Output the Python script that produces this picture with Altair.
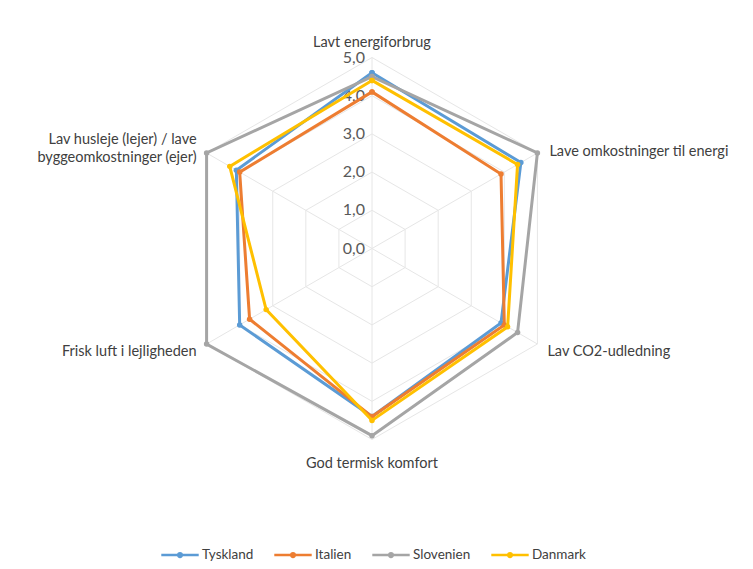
import altair as alt
import pandas as pd

# ---------------- data ----------------
categories = [
    "Lavt energiforbrug",
    "Lave omkostninger til energi",
    "Lav CO2-udledning",
    "God termisk komfort",
    "Frisk luft i lejligheden",
    "Lav husleje (lejer) / lave\nbyggeomkostninger (ejer)",
]
series = ["Tyskland", "Italien", "Slovenien", "Danmark"]
tyskland = [4.6, 4.5, 3.9, 4.4, 4.0, 4.1]
italien = [4.1, 3.9, 4.0, 4.4, 3.7, 4.0]
slovenien = [4.5, 5.0, 4.4, 4.9, 5.0, 5.0]
danmark = [4.4, 4.4, 4.1, 4.5, 3.2, 4.3]
ticks = [0, 1, 2, 3, 4, 5]
tick_labels = ["0,0", "1,0", "2,0", "3,0", "4,0", "5,0"]
colors = ["#5B9BD5", "#ED7D31", "#A5A5A5", "#FFC000"]

values = [tyskland, italien, slovenien, danmark]
n = len(categories)

rows = []
for s, vals in zip(series, values):
    for i in range(n + 1):
        rows.append({"serie": s, "idx": i, "value": vals[i % n]})
df = pd.DataFrame(rows)

grid = pd.DataFrame(
    [{"level": t, "idx": i} for t in ticks[1:] for i in range(n + 1)]
)
spokes = pd.DataFrame({"idx": list(range(n)), "level": [max(ticks)] * n})
tickdf = pd.DataFrame({"value": ticks, "label": tick_labels})
catdf = pd.DataFrame({"idx": list(range(n)), "cat": categories, "level": [max(ticks)] * n})

# ---------------- geometry (plot area) ----------------
W, H = 737, 553
cx, cy, unit = 364.0, 240.5, 38.2
xs = alt.Scale(domain=[-cx / unit, (W - cx) / unit], nice=False, zero=False)
ys = alt.Scale(domain=[-(H - cy) / unit, cy / unit], nice=False, zero=False)

FONT = "Lato"
TXT = "#404040"


def X(field):
    return alt.X(field, type="quantitative", scale=xs, axis=None)


def Y(field):
    return alt.Y(field, type="quantitative", scale=ys, axis=None)


def polar(ch, rfield):
    return ch.transform_calculate(
        px=f"datum.{rfield} * sin(datum.idx * PI / 3)",
        py=f"datum.{rfield} * cos(datum.idx * PI / 3)",
    )


grid_layer = polar(
    alt.Chart(grid).mark_line(color="#E6E6E6", strokeWidth=1), "level"
).encode(x=X("px"), y=Y("py"), detail="level:N", order="idx:Q")

spoke_layer = polar(
    alt.Chart(spokes).mark_rule(color="#E6E6E6", strokeWidth=1), "level"
).transform_calculate(zx="0", zy="0").encode(
    x=X("zx"), y=Y("zy"), x2="px:Q", y2="py:Q"
)

tick_layer = alt.Chart(tickdf).mark_text(
    align="right", baseline="middle", dx=-7, font=FONT, fontSize=16, color="#595959"
).transform_calculate(zx="0").encode(x=X("zx"), y=Y("value"), text="label:N")

color_enc = alt.Color(
    "serie:N",
    scale=alt.Scale(domain=series, range=colors),
    legend=alt.Legend(
        title=None,
        orient="none",
        direction="horizontal",
        legendX=152,
        legendY=527,
        symbolType="M-1,0H1M-0.1,0A0.1,0.1,0,1,1,0.1,0A0.1,0.1,0,1,1,-0.1,0",
        symbolSize=1400,
        symbolStrokeWidth=2.5,
        labelFont=FONT,
        labelFontSize=13.5,
        labelColor=TXT,
        labelOffset=2,
        columnPadding=15,
    ),
)

series_layers = []
for s in series:
    base = polar(alt.Chart(df).transform_filter(alt.datum.serie == s), "value")
    series_layers.append(
        base.mark_line(strokeWidth=3).encode(
            x=X("px"), y=Y("py"), order="idx:Q", color=color_enc
        )
    )
    series_layers.append(
        base.mark_point(filled=True, size=30, opacity=1).encode(
            x=X("px"), y=Y("py"), color=alt.Color("serie:N", scale=alt.Scale(domain=series, range=colors), legend=None)
        )
    )

label_specs = [
    (0, "center", 0, -15),
    (1, "left", 12, -1),
    (2, "left", 10, 8),
    (3, "center", 0, 24),
    (4, "right", -10, 8),
    (5, "right", -10, -13),
]
label_layers = []
for idx, align, dx, dy in label_specs:
    label_layers.append(
        polar(
            alt.Chart(catdf).transform_filter(alt.datum.idx == idx), "level"
        ).mark_text(
            align=align, baseline="middle", dx=dx, dy=dy, font=FONT,
            fontSize=14.5, color=TXT, lineBreak="\n", lineHeight=18,
        ).encode(x=X("px"), y=Y("py"), text="cat:N")
    )

chart = alt.layer(
    grid_layer, spoke_layer, tick_layer, *series_layers, *label_layers
).properties(
    width=W, height=H, padding=0, autosize=alt.AutoSizeParams(type="none"),
    background="white",
).configure_view(stroke=None)

chart.save("out.html", embed_options={"renderer": "svg", "actions": False})
